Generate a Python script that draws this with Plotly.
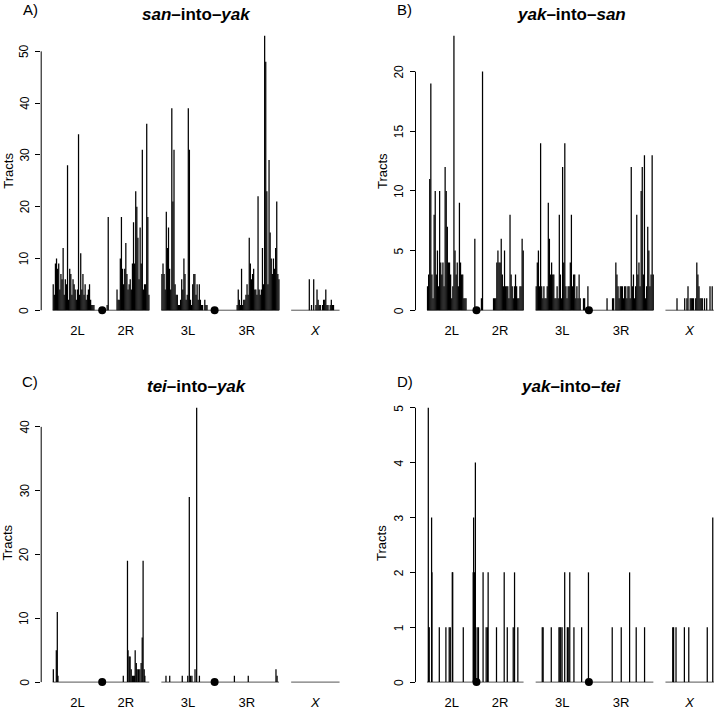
import plotly.graph_objects as go

# ---------------- data ----------------
ARMS = ["2L", "2R", "3L", "3R", "X"]
ARM_LEN_MB = [22.5, 21.4, 24.2, 29.3, 22.0]
CHROMS = [["2L", "2R"], ["3L", "3R"], ["X"]]
GAP_MB = 5.5
WINDOW_MB = 0.5
ARM_LABELS = ["2L", "2R", "3L", "3R", "<i>X</i>"]

# Panel A: san-into-yak, tracts per 0.5-Mb window
A_2L = [5, 3, 9, 10, 8, 9, 4, 7, 6, 12, 3, 6, 5, 28, 2, 8, 7, 3, 6, 5, 4, 2, 4, 34, 3,
        11, 4, 7, 3, 5, 2, 3, 4, 5, 2, 1, 1, 1, 0, 0, 0, 0, 0, 0, 0]
A_2R = [0, 0, 0, 0, 1, 18, 0, 0, 0, 0, 0, 0, 0, 4, 2, 2, 10, 18, 8, 5, 8, 13, 7, 4, 5,
        6, 4, 9, 17, 9, 23, 20, 14, 6, 16, 9, 31, 4, 5, 5, 36, 18, 3]
A_3L = [7, 9, 7, 4, 19, 12, 16, 8, 4, 39, 21, 31, 5, 3, 3, 1, 1, 2, 6, 4, 10, 7, 2, 3, 39,
        31, 2, 1, 5, 7, 7, 3, 5, 2, 5, 2, 1, 1, 0, 2, 1, 1, 0, 0, 0, 0, 0, 0]
A_3R = [0, 0, 0, 0, 0, 0, 0, 0, 0, 0, 0, 0, 0, 0, 0, 0, 0, 0, 0, 0,
        1, 4, 2, 1, 8, 1, 2, 2, 3, 5, 3, 14, 9, 6, 7, 8, 4, 4, 3, 22, 4, 3, 4, 12, 5,
        53, 48, 23, 5, 29, 15, 10, 7, 10, 8, 12, 21, 7, 6]
A_X = [0, 0, 0, 0, 0, 0, 0, 0, 0, 0, 0, 0, 0, 0, 0, 0,
       6, 0, 1, 0, 6, 0, 1, 4, 2, 1, 1, 0, 1, 2, 2, 4, 1, 1, 0, 1, 2, 1, 1,
       0, 0, 0, 0, 0]

# Panel B: yak-into-san, tracts per 0.5-Mb window
B_2L = [2, 3, 11, 19, 3, 1, 8, 10, 3, 5, 2, 10, 4, 3, 4, 2, 12, 10, 7, 4, 4, 3, 1, 2, 23,
        5, 3, 4, 2, 9, 4, 3, 3, 1, 1, 1, 0, 0, 0, 0, 0, 0, 0, 6, 0]
B_2R = [0, 0, 0, 0, 1, 20, 0, 0, 0, 0, 0, 0, 0, 0, 0, 1, 1, 1, 4, 5, 4, 4, 6, 3, 2,
        5, 2, 2, 2, 1, 8, 3, 2, 1, 2, 3, 2, 1, 1, 2, 2, 6, 5]
B_3L = [2, 4, 5, 2, 14, 2, 1, 2, 1, 1, 2, 9, 6, 3, 4, 3, 3, 1, 1, 2, 1, 8, 3, 1, 12,
        4, 14, 2, 1, 2, 2, 4, 8, 2, 3, 3, 1, 2, 1, 3, 1, 0, 0, 1, 1, 0, 0, 2]
B_3R = [0, 0, 0, 0, 0, 0, 0, 0, 0, 0, 0, 0, 0, 0, 0, 0,
        1, 0, 0, 0, 0, 1, 1, 0, 4, 3, 2, 1, 2, 2, 2, 1, 2, 2, 1, 2, 2, 1, 12, 2, 3,
        1, 2, 8, 3, 4, 2, 10, 12, 3, 13, 1, 2, 7, 5, 2, 3, 13, 3]
B_X = [0, 0, 0, 0, 0, 0, 0, 0, 0, 0, 1, 0, 0, 0, 0, 0, 0,
       1, 0, 1, 2, 0, 1, 1, 1, 1, 0, 1, 4, 3, 2, 1, 1, 1, 0, 1, 0, 1, 0, 0, 2, 0, 2, 0]

# Panel C: tei-into-yak, individual windows (position within arm in Mb, tracts)
C_2L_POS = [0.3, 1.65, 2.1, 2.4]
C_2L_N = [2, 5, 11, 1]
C_2R_POS = [9.6, 11.5, 11.75, 12.3, 12.7, 13.2, 13.8, 14.3, 14.7, 15.0, 15.5, 15.9,
            16.5, 17.1, 17.7, 18.2, 18.6, 19.1, 19.4]
C_2R_N = [1, 19, 5, 4, 4, 2, 1, 1, 1, 5, 3, 2, 2, 2, 3, 7, 19, 2, 1]
C_3L_POS = [2.1, 3.8, 9.5, 12.0, 12.7, 13.3, 13.9, 15.3, 16.05, 17.3]
C_3L_N = [1, 1, 1, 1, 29, 1, 1, 2, 43, 1]
C_3R_POS = [9.0, 15.3, 27.9, 28.4]
C_3R_N = [1, 1, 2, 1]
C_X_POS = []
C_X_N = []

# Panel D: yak-into-tei
D_2L_POS = [0.6, 0.8, 1.0, 2.1, 2.25, 5.6, 8.6, 10.1, 10.6, 11.5, 11.7, 16.5, 21.0, 21.2, 21.6, 22.0]
D_2L_N = [5, 1, 1, 3, 2, 1, 1, 1, 1, 2, 2, 1, 2, 3, 2, 4]
D_2R_POS = [0.3, 0.9, 3.0, 4.4, 5.0, 5.3, 9.1, 12.6, 14.0, 16.7, 17.3, 18.8]
D_2R_N = [1, 1, 2, 1, 1, 2, 1, 2, 1, 1, 2, 1]
D_3L_POS = [3.0, 3.4, 7.1, 10.6, 11.0, 11.4, 12.0, 13.2, 14.4, 14.8, 15.5, 17.4, 20.9, 24.0]
D_3L_N = [1, 1, 1, 1, 1, 1, 1, 2, 1, 1, 2, 1, 1, 2]
D_3R_POS = [10.6, 14.7, 18.5, 21.5, 25.3]
D_3R_N = [1, 1, 2, 1, 1]
D_X_POS = [3.3, 3.7, 4.8, 8.6, 10.6, 19.0, 21.5]
D_X_N = [1, 1, 1, 1, 1, 1, 3]

TICKS_A = [0, 10, 20, 30, 40, 50]
TICKS_B = [0, 5, 10, 15, 20]
TICKS_C = [0, 10, 20, 30, 40]
TICKS_D = [0, 1, 2, 3, 4, 5]


def dense(arr):
    return [(i + 0.5) * WINDOW_MB for i in range(len(arr))], arr


PANELS = [
    dict(letter="A)", title="<b><i>san</i>–into–<i>yak</i></b>", ticks=TICKS_A,
         data={"2L": dense(A_2L), "2R": dense(A_2R), "3L": dense(A_3L),
               "3R": dense(A_3R), "X": dense(A_X)}),
    dict(letter="B)", title="<b><i>yak</i>–into–<i>san</i></b>", ticks=TICKS_B,
         data={"2L": dense(B_2L), "2R": dense(B_2R), "3L": dense(B_3L),
               "3R": dense(B_3R), "X": dense(B_X)}),
    dict(letter="C)", title="<b><i>tei</i>–into–<i>yak</i></b>", ticks=TICKS_C,
         data={"2L": (C_2L_POS, C_2L_N), "2R": (C_2R_POS, C_2R_N), "3L": (C_3L_POS, C_3L_N),
               "3R": (C_3R_POS, C_3R_N), "X": (C_X_POS, C_X_N)}),
    dict(letter="D)", title="<b><i>yak</i>–into–<i>tei</i></b>", ticks=TICKS_D,
         data={"2L": (D_2L_POS, D_2L_N), "2R": (D_2R_POS, D_2R_N), "3L": (D_3L_POS, D_3L_N),
               "3R": (D_3R_POS, D_3R_N), "X": (D_X_POS, D_X_N)}),
]

# ---------------- genome coordinates ----------------
starts = {}
cur = 0.0
chrom_spans = []
for ci, chrom in enumerate(CHROMS):
    if ci:
        cur += GAP_MB
    c0 = cur
    for arm in chrom:
        starts[arm] = cur
        cur += ARM_LEN_MB[ARMS.index(arm)]
    chrom_spans.append((c0, cur))
TOTAL = cur
arm_centers = [starts[a] + ARM_LEN_MB[i] / 2 for i, a in enumerate(ARMS)]
centromeres = [starts[c[1]] for c in CHROMS if len(c) == 2]

# ---------------- layout geometry ----------------
FIG_W, FIG_H = 716, 710
PX_PER_MB = 2.2
PAD = 0.04
COL_LEFT_PX = [41.2, 415.5]
ROW_BOTTOM_PX = [323.0, 697.0]
PLOT_H_PX = 298.0
FONT = "Liberation Sans, Arial, Helvetica, sans-serif"

fig = go.Figure()
layout = dict(
    width=FIG_W, height=FIG_H, margin=dict(l=0, r=0, t=0, b=0),
    paper_bgcolor="white", plot_bgcolor="white", showlegend=False,
    font=dict(family=FONT, color="black"),
)
shapes, annotations = [], []

for k, p in enumerate(PANELS):
    row, col = divmod(k, 2)
    sfx = "" if k == 0 else str(k + 1)
    xa, ya = "x" + sfx, "y" + sfx

    # spikes
    xs, ys = [], []
    ymax = 0
    for arm in ARMS:
        pos, cnt = p["data"][arm]
        for q, n in zip(pos, cnt):
            if n > 0:
                g = starts[arm] + q
                xs += [g, g, None]
                ys += [0, n, None]
                ymax = max(ymax, n)
    # baselines
    bx, by = [], []
    for c0, c1 in chrom_spans:
        bx += [c0, c1, None]
        by += [0, 0, None]
    fig.add_trace(go.Scatter(x=bx, y=by, mode="lines", xaxis=xa, yaxis=ya,
                             line=dict(color="#555555", width=1), hoverinfo="skip"))
    fig.add_trace(go.Scatter(x=xs, y=ys, mode="lines", xaxis=xa, yaxis=ya,
                             line=dict(color="#000000", width=1.25), hoverinfo="skip"))
    fig.add_trace(go.Scatter(x=centromeres, y=[0] * len(centromeres), mode="markers",
                             xaxis=xa, yaxis=ya, cliponaxis=False,
                             marker=dict(color="black", size=8), hoverinfo="skip"))

    left_px = COL_LEFT_PX[col]
    full_w = (1 + 2 * PAD) * TOTAL * PX_PER_MB
    w_px = min(full_w, FIG_W - left_px)
    x0 = -PAD * TOTAL
    x1 = x0 + w_px / PX_PER_MB
    bot = ROW_BOTTOM_PX[row]
    top = bot - PLOT_H_PX

    layout["xaxis" + sfx] = dict(
        domain=[left_px / FIG_W, (left_px + w_px) / FIG_W], range=[x0, x1],
        anchor=ya, showgrid=False, zeroline=False, showline=False, ticks="",
        tickmode="array", tickvals=arm_centers, ticktext=ARM_LABELS,
        tickfont=dict(size=13, family=FONT, color="black"), fixedrange=True)
    layout["yaxis" + sfx] = dict(
        domain=[1 - bot / FIG_H, 1 - top / FIG_H],
        range=[-PAD * ymax, (1 + PAD) * ymax], anchor=xa,
        showgrid=False, zeroline=False, showline=False,
        ticks="outside", ticklen=5, tickwidth=1, tickcolor="black",
        tickmode="array", tickvals=p["ticks"], showticklabels=False,
        fixedrange=True)
    shapes.append(dict(type="line", xref=xa + " domain", yref=ya, x0=0, x1=0,
                       y0=p["ticks"][0], y1=p["ticks"][-1],
                       line=dict(color="black", width=1)))
    # rotated y tick labels (R style)
    for t in p["ticks"]:
        annotations.append(dict(text=str(t), x=(left_px - 16.5) / FIG_W, y=t,
                                xref="paper", yref=ya, textangle=-90, showarrow=False,
                                xanchor="center", yanchor="middle",
                                font=dict(size=12, family=FONT, color="black")))

    cx = left_px + 155.5
    annotations.append(dict(text=p["title"], x=cx / FIG_W, y=1 - (top - 10) / FIG_H,
                            xref="paper", yref="paper", showarrow=False,
                            xanchor="center", yanchor="middle",
                            font=dict(size=17, family=FONT, color="black")))
    annotations.append(dict(text=p["letter"], x=(left_px - 11) / FIG_W,
                            y=1 - (top - 15) / FIG_H,
                            xref="paper", yref="paper", showarrow=False,
                            xanchor="center", yanchor="middle",
                            font=dict(size=15, family=FONT, color="black")))
    annotations.append(dict(text="Tracts", x=(left_px - 33.5) / FIG_W,
                            y=1 - (bot - 151) / FIG_H, textangle=-90,
                            xref="paper", yref="paper", showarrow=False,
                            xanchor="center", yanchor="middle",
                            font=dict(size=13, family=FONT, color="black")))

layout["shapes"] = shapes
layout["annotations"] = annotations
fig.update_layout(**layout)

fig.write_html("out.html", config={"displayModeBar": False},
               post_script="document.body.style.margin='0';document.body.style.overflow='hidden';")
